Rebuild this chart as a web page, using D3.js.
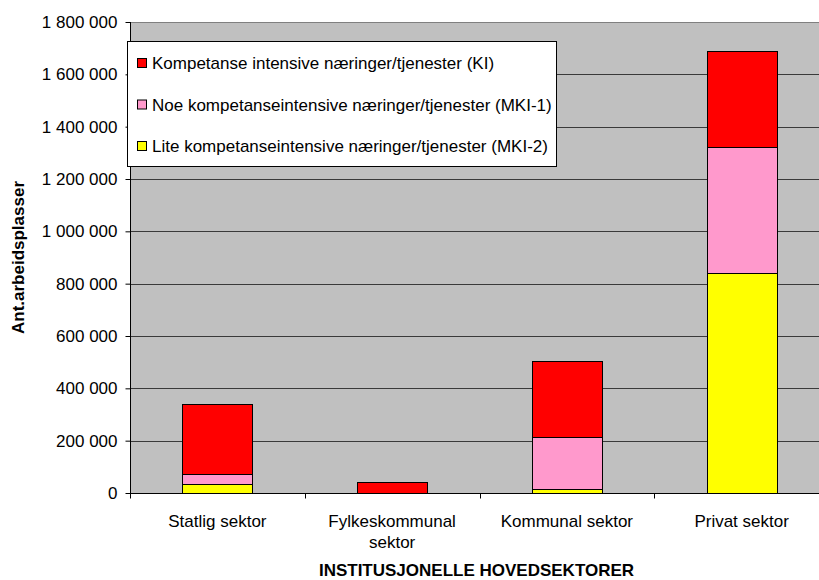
<!DOCTYPE html>
<html>
<head>
<meta charset="utf-8">
<script src="https://cdn.jsdelivr.net/npm/d3@7"></script>
<style>
  body { margin: 0; background: #fff; }
  svg { display: block; font-family: "Liberation Sans", Arial, sans-serif; }
</style>
</head>
<body>
<div id="chart"></div>
<script>
var categories = ['Statlig sektor', 'Fylkeskommunal sektor', 'Kommunal sektor', 'Privat sektor'];
var mki2 = [33000, 0, 14000, 842000];      // Lite kompetanseintensive
var mki1 = [38000, 0, 199000, 480000];     // Noe kompetanseintensive
var ki = [271000, 41000, 293000, 366000];  // Kompetanse intensive
var seriesNames = [
  'Kompetanse intensive næringer/tjenester (KI)',
  'Noe kompetanseintensive næringer/tjenester (MKI-1)',
  'Lite kompetanseintensive næringer/tjenester (MKI-2)'
];
var yTicks = [0, 200000, 400000, 600000, 800000, 1000000, 1200000, 1400000, 1600000, 1800000];

(function() {
  var WIDTH = 819, HEIGHT = 580;
  var left = 130, top = 22, bottom = 493, right = 829;

  var svg = d3.select('#chart').append('svg')
    .attr('width', WIDTH)
    .attr('height', HEIGHT);

  var locale = d3.formatLocale({decimal: ',', thousands: ' ', grouping: [3], currency: ['', '']});
  var fmt = locale.format(',');

  var x = d3.scaleBand().domain(categories).range([left, right]).padding(0);
  var y = d3.scaleLinear().domain([0, 1800000]).range([bottom, top]);

  var rows = categories.map(function(c, i) {
    return {cat: c, mki2: mki2[i], mki1: mki1[i], ki: ki[i]};
  });
  var keys = ['mki2', 'mki1', 'ki'];
  var colors = {mki2: '#FFFF00', mki1: '#FF99CC', ki: '#FF0000'};
  var stacked = d3.stack().keys(keys)(rows);

  // plot area
  svg.append('rect')
    .attr('x', left).attr('y', top)
    .attr('width', right - left).attr('height', bottom - top)
    .style('fill', '#C0C0C0');
  svg.append('line')
    .attr('x1', left).attr('x2', right).attr('y1', top + 0.5).attr('y2', top + 0.5)
    .style('stroke', '#808080');

  // gridlines
  svg.append('g').selectAll('line')
    .data(yTicks.slice(1, -1))
    .enter().append('line')
      .attr('x1', left).attr('x2', right)
      .attr('y1', function(d) { return Math.round(y(d)) + 0.5; })
      .attr('y2', function(d) { return Math.round(y(d)) + 0.5; })
      .style('stroke', '#3a3a3a');

  // bars
  var barW = x.bandwidth() * 0.4;
  svg.append('g').selectAll('g')
    .data(stacked)
    .enter().append('g')
      .style('fill', function(s) { return colors[s.key]; })
    .selectAll('rect')
    .data(function(s) { return s.filter(function(d) { return d[1] - d[0] > 0; }); })
    .enter().append('rect')
      .attr('x', function(d) { return Math.round(x(d.data.cat) + (x.bandwidth() - barW) / 2) + 0.5; })
      .attr('y', function(d) { return Math.round(y(d[1])) + 0.5; })
      .attr('width', Math.round(barW))
      .attr('height', function(d) { return Math.round(y(d[0])) - Math.round(y(d[1])); })
      .style('stroke', '#000')
      .style('stroke-width', 1);

  // y axis
  var yAxis = d3.axisLeft(y).tickValues(yTicks).tickFormat(fmt).tickSize(5).tickPadding(8);
  var yg = svg.append('g').attr('transform', 'translate(' + (left + 0.5) + ',0)').call(yAxis);
  yg.select('.domain').attr('d', 'M0,' + top + 'V' + bottom).style('stroke', '#000');
  yg.selectAll('.tick line').style('stroke', '#000');
  yg.selectAll('text').style('font-size', '17px').style('fill', '#000');

  // x axis
  var xg = svg.append('g').attr('transform', 'translate(0,' + (bottom + 0.5) + ')');
  xg.append('line').attr('x1', left).attr('x2', right).style('stroke', '#000');
  xg.selectAll('.sep')
    .data(categories.concat(['end']))
    .enter().append('line')
      .attr('x1', function(d, i) { return Math.round(left + i * x.step()) + 0.5; })
      .attr('x2', function(d, i) { return Math.round(left + i * x.step()) + 0.5; })
      .attr('y1', 0).attr('y2', 5)
      .style('stroke', '#000');
  xg.selectAll('.lbl')
    .data(categories)
    .enter().append('text')
      .attr('text-anchor', 'middle')
      .style('font-size', '17px')
      .attr('x', function(d) { return x(d) + x.bandwidth() / 2; })
      .each(function(d) {
        var parts = d === 'Fylkeskommunal sektor' ? ['Fylkeskommunal', 'sektor'] : [d];
        var t = d3.select(this);
        parts.forEach(function(p, i) {
          t.append('tspan').attr('x', t.attr('x')).attr('y', 33 + i * 21).text(p);
        });
      });

  // axis titles
  svg.append('text')
    .attr('x', (left + right) / 2 - 3).attr('y', 576)
    .attr('text-anchor', 'middle')
    .style('font-size', '17px').style('font-weight', 'bold')
    .text('INSTITUSJONELLE HOVEDSEKTORER');
  svg.append('text')
    .attr('transform', 'translate(24,' + ((top + bottom) / 2) + ') rotate(-90)')
    .attr('text-anchor', 'middle')
    .style('font-size', '17px').style('font-weight', 'bold')
    .text('Ant.arbeidsplasser');

  // legend
  var legend = svg.append('g');
  legend.append('rect')
    .attr('x', 127.5).attr('y', 41.5).attr('width', 429).attr('height', 125)
    .style('fill', '#fff').style('stroke', '#000');
  var items = legend.selectAll('.item')
    .data(['ki', 'mki1', 'mki2'])
    .enter().append('g')
      .attr('transform', function(d, i) { return 'translate(137,' + (63 + i * 41.5) + ')'; });
  items.append('rect')
    .attr('x', 0.5).attr('y', -4.5).attr('width', 9).attr('height', 9)
    .style('fill', function(d) { return colors[d]; })
    .style('stroke', '#000');
  items.append('text')
    .attr('x', 15).attr('y', 6)
    .style('font-size', '17px')
    .text(function(d, i) { return seriesNames[i]; });
})();
</script>
</body>
</html>
